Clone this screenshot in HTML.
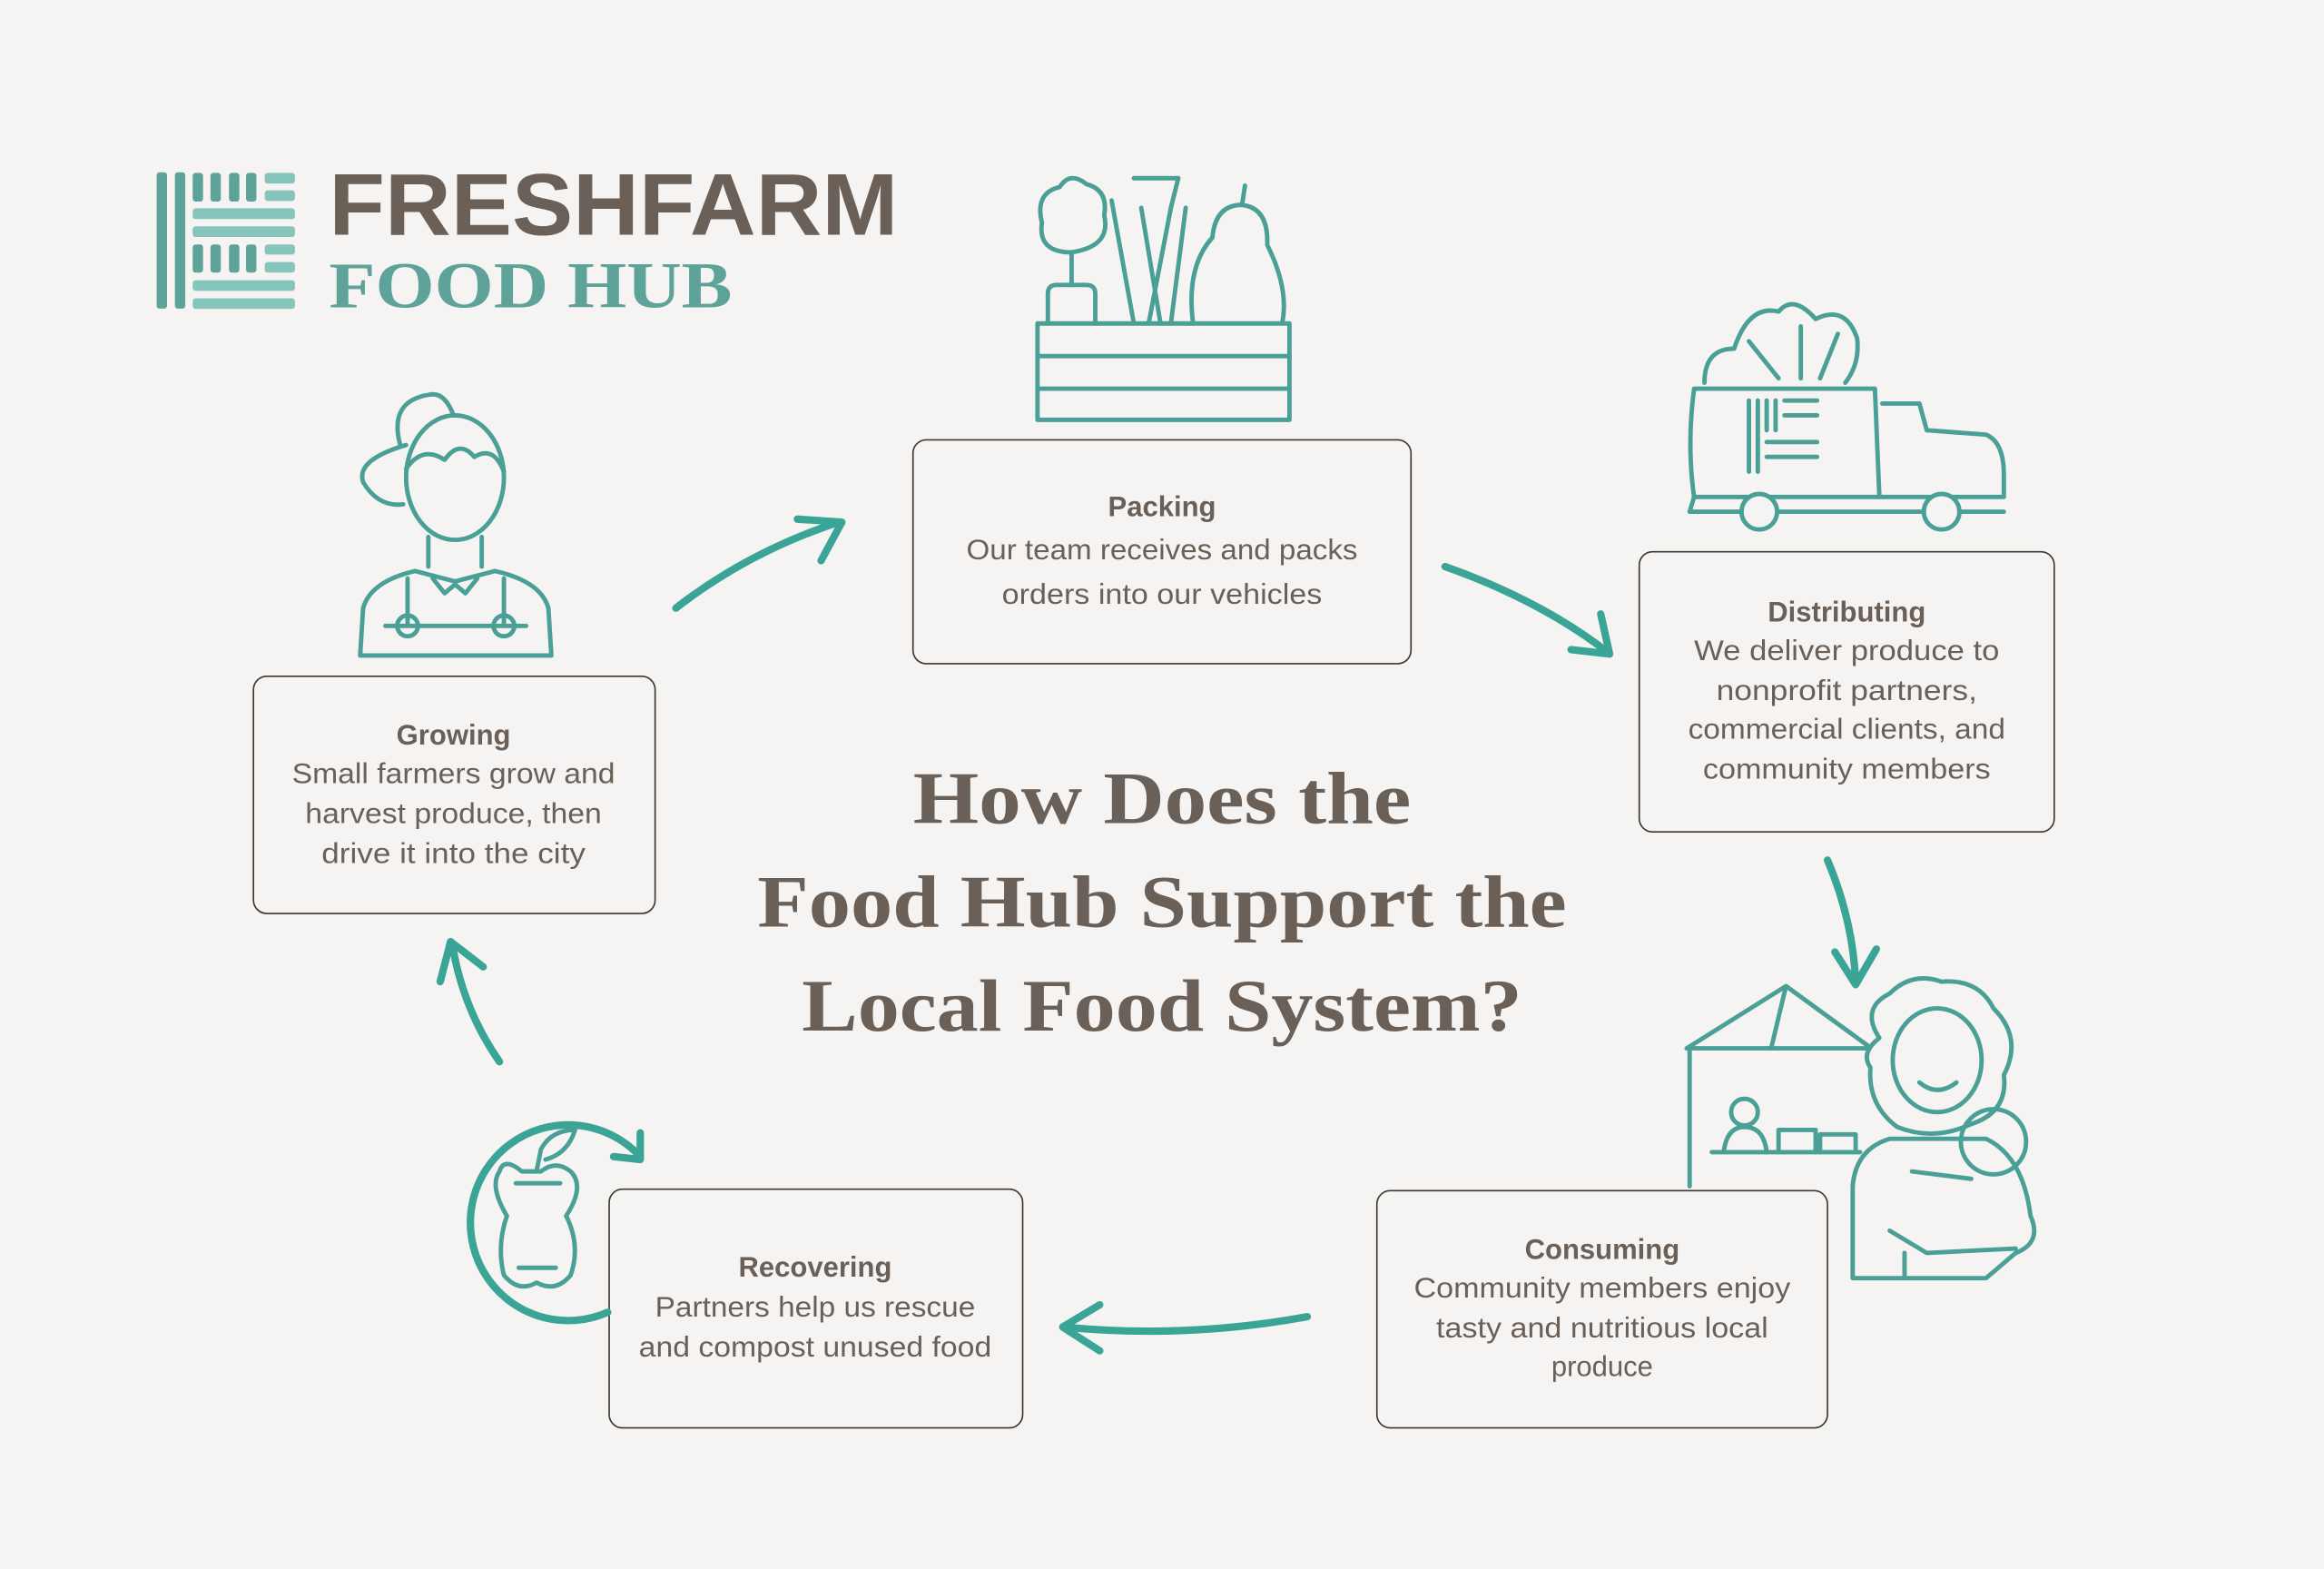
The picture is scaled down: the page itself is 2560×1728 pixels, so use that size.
<!DOCTYPE html>
<html><head><meta charset="utf-8"><style>
html,body{margin:0;padding:0;background:#f6f4f2;}
svg{display:block}
</style></head><body>
<svg width="2560" height="1728" viewBox="0 0 1568 1058" xmlns="http://www.w3.org/2000/svg">
<rect width="1568" height="1058" fill="#f6f4f2"/>
<!-- logo -->
<g fill="#5ea39a">
<rect x="105.7" y="116" width="7" height="92" rx="2"/><rect x="118" y="116" width="7" height="92" rx="2"/>
<rect x="130" y="116.4" width="7" height="19.4" rx="2"/><rect x="142" y="116.4" width="7" height="19.4" rx="2"/><rect x="154.5" y="116.4" width="7" height="19.4" rx="2"/><rect x="166" y="116.4" width="7" height="19.4" rx="2"/>
<rect x="130" y="164.7" width="7" height="19" rx="2"/><rect x="142" y="164.7" width="7" height="19" rx="2"/><rect x="154.5" y="164.7" width="7" height="19" rx="2"/><rect x="166" y="164.7" width="7" height="19" rx="2"/>
</g>
<g fill="#86c5bb">
<rect x="178.6" y="116.4" width="20.4" height="7.2" rx="2"/><rect x="178.6" y="128.2" width="20.4" height="7.2" rx="2"/>
<rect x="130" y="140.3" width="69" height="7.3" rx="2"/><rect x="130" y="152.5" width="69" height="7.2" rx="2"/>
<rect x="178.6" y="164.7" width="20.4" height="6.8" rx="2"/><rect x="178.6" y="176.5" width="20.4" height="7.2" rx="2"/>
<rect x="130" y="188.8" width="69" height="7.2" rx="2"/><rect x="130" y="201" width="69" height="7.2" rx="2"/>
</g>
<text x="222" y="158" font-family="Liberation Sans, sans-serif" font-weight="bold" font-size="59" fill="#6b6057" textLength="384" lengthAdjust="spacingAndGlyphs">FRESHFARM</text>
<text x="222" y="207" font-family="Liberation Serif, serif" font-weight="bold" font-size="44" fill="#5ea39a" textLength="272" lengthAdjust="spacingAndGlyphs">FOOD HUB</text>

<!-- title -->
<g font-family="Liberation Serif, serif" font-weight="bold" font-size="50" fill="#6b6057" text-anchor="middle" lengthAdjust="spacingAndGlyphs">
<text x="784" y="555" textLength="336" lengthAdjust="spacingAndGlyphs">How Does the</text>
<text x="784" y="625" textLength="546" lengthAdjust="spacingAndGlyphs">Food Hub Support the</text>
<text x="784" y="695" textLength="486" lengthAdjust="spacingAndGlyphs">Local Food System?</text>
</g>

<!-- boxes -->
<g fill="none" stroke="#3a3632" stroke-width="1">
<rect x="616" y="296.5" width="336" height="151" rx="9"/>
<rect x="1106" y="372" width="280" height="189" rx="9"/>
<rect x="171" y="456" width="271" height="160" rx="9"/>
<rect x="929" y="803" width="304" height="160" rx="9"/>
<rect x="411" y="802" width="279" height="161" rx="9"/>
</g>
<g font-family="Liberation Sans, sans-serif" font-size="19" fill="#6b6057" text-anchor="middle">
<text x="784" y="348" font-weight="bold">Packing</text>
<text x="784" y="377" textLength="264" lengthAdjust="spacingAndGlyphs">Our team receives and packs</text>
<text x="784" y="407" textLength="216" lengthAdjust="spacingAndGlyphs">orders into our vehicles</text>
<text x="1246" y="419" font-weight="bold">Distributing</text>
<text x="1246" y="445" textLength="206" lengthAdjust="spacingAndGlyphs">We deliver produce to</text>
<text x="1246" y="472" textLength="176" lengthAdjust="spacingAndGlyphs">nonprofit partners,</text>
<text x="1246" y="498" textLength="214" lengthAdjust="spacingAndGlyphs">commercial clients, and</text>
<text x="1246" y="525" textLength="194" lengthAdjust="spacingAndGlyphs">community members</text>
<text x="306" y="502" font-weight="bold">Growing</text>
<text x="306" y="528" textLength="218" lengthAdjust="spacingAndGlyphs">Small farmers grow and</text>
<text x="306" y="555" textLength="200" lengthAdjust="spacingAndGlyphs">harvest produce, then</text>
<text x="306" y="582" textLength="178" lengthAdjust="spacingAndGlyphs">drive it into the city</text>
<text x="1081" y="849" font-weight="bold">Consuming</text>
<text x="1081" y="875" textLength="254" lengthAdjust="spacingAndGlyphs">Community members enjoy</text>
<text x="1081" y="902" textLength="224" lengthAdjust="spacingAndGlyphs">tasty and nutritious local</text>
<text x="1081" y="928">produce</text>
<text x="550" y="861" font-weight="bold">Recovering</text>
<text x="550" y="888" textLength="216" lengthAdjust="spacingAndGlyphs">Partners help us rescue</text>
<text x="550" y="915" textLength="238" lengthAdjust="spacingAndGlyphs">and compost unused food</text>
</g>

<!-- arrows -->
<g fill="none" stroke="#3aa597" stroke-width="5" stroke-linecap="round" stroke-linejoin="round">
<path d="M456 410 Q505 372 566 352"/><path d="M538 350 L568 352 L554 378"/>
<path d="M975 382 Q1040 405 1085 440"/><path d="M1060 438 L1086 441 L1080 414"/>
<path d="M1233 580 Q1250 620 1252 662"/><path d="M1238 642 L1252 664 L1266 640"/>
<path d="M882 888 Q800 903 718 895"/><path d="M742 880 L717 895 L742 911"/>
<path d="M337 716 Q312 680 305 636"/><path d="M297 662 L304 635 L326 652"/>
<path d="M410 885 A66 66 0 1 1 432 780"/><path d="M414 780 L432 782 L432 764"/>
</g>

<!-- icons -->
<g fill="none" stroke="#4aa096" stroke-width="3" stroke-linecap="round" stroke-linejoin="round">
<!-- farmer -->
<ellipse cx="307" cy="322" rx="33" ry="42"/>
<path d="M274 316 Q285 300 300 310 Q310 296 320 308 Q333 300 340 318"/>
<path d="M270 300 Q262 270 290 266 Q300 264 306 280"/>
<path d="M274 300 Q240 310 245 325 Q255 342 272 340"/>
<path d="M289 362 L289 382 M325 362 L325 382"/>
<path d="M243 442 L245 410 Q250 392 280 385 L307 392 L334 385 Q365 392 370 410 L372 442 Z"/>
<path d="M292 390 L300 400 L307 394 L314 400 L322 390"/>
<path d="M275 390 L275 422 M340 390 L340 422 M260 422 L355 422"/>
<circle cx="275" cy="422" r="7"/><circle cx="340" cy="422" r="7"/>
<!-- crate -->
<rect x="700" y="218" width="170" height="65"/>
<path d="M700 240 L870 240 M700 262 L870 262 M725 240 L755 240 M760 262 L830 262"/>
<path d="M707 218 L707 198 Q707 192 713 192 L733 192 Q739 192 739 198 L739 218"/>
<path d="M723 192 L723 170"/>
<path d="M723 170 Q700 170 703 150 Q698 130 715 126 Q722 115 733 124 Q748 128 745 145 Q750 166 723 170"/>
<path d="M750 135 L765 218 M765 120 L795 120 L790 140 L775 218 M770 140 L783 218 M800 140 L790 218"/>
<path d="M805 218 Q800 180 818 160 Q820 138 838 138 Q856 140 855 165 Q870 195 865 218"/>
<path d="M838 138 L840 125"/>
<!-- truck -->
<path d="M1143 262 L1265 262 L1268 335 L1143 335 Q1138 300 1143 262 Z"/>
<path d="M1270 272 L1295 272 L1300 290 L1340 293 Q1352 298 1352 320 L1352 335 L1268 335"/>
<path d="M1143 335 L1140 345 L1352 345"/>
<circle cx="1187" cy="345" r="12" fill="#f6f4f2"/><circle cx="1310" cy="345" r="12" fill="#f6f4f2"/>
<path d="M1180 270 L1180 318 M1186 270 L1186 318 M1192 270 L1192 290 M1198 270 L1198 290 M1204 270 L1226 270 M1204 280 L1226 280 M1192 298 L1226 298 M1192 308 L1226 308"/>
<path d="M1150 258 Q1150 235 1170 235 Q1180 205 1200 210 Q1210 198 1225 215 Q1245 205 1253 228 Q1255 245 1245 258"/>
<path d="M1180 230 L1200 255 M1215 220 L1215 255 M1240 225 L1228 255"/>
<!-- market + woman -->
<path d="M1138 707 L1205 665 L1260 705 M1205 665 L1195 707 M1138 707 L1260 707 M1140 707 L1140 800 M1155 777 L1255 777"/>
<circle cx="1177" cy="750" r="9"/><path d="M1163 777 Q1165 760 1177 760 Q1190 760 1192 777"/>
<path d="M1200 777 L1200 762 L1225 762 L1225 777 M1228 777 L1228 765 L1252 765 L1252 777"/>
<path d="M1268 700 Q1255 680 1275 670 Q1290 655 1310 662 Q1335 660 1345 680 Q1365 700 1352 725 Q1355 750 1330 758 Q1305 770 1280 760 Q1260 745 1262 720 Q1255 710 1268 700"/>
<ellipse cx="1307" cy="715" rx="30" ry="35"/>
<path d="M1295 730 Q1307 740 1320 730"/>
<path d="M1250 862 L1250 800 Q1252 775 1275 768 L1340 768 Q1365 780 1370 820 Q1378 838 1360 845 L1340 862 Z"/>
<circle cx="1345" cy="770" r="22"/>
<path d="M1290 790 L1330 795 M1275 830 L1300 845 L1360 842 M1285 845 L1285 862"/>
<!-- apple -->
<path d="M352 790 Q340 780 337 790 Q330 800 342 820 Q335 840 340 860 Q350 872 362 865 Q375 872 385 860 Q392 840 382 820 Q395 800 385 790 Q375 782 365 790 Z" />
<path d="M362 790 L365 775 Q372 762 388 762 Q383 778 368 782"/>
<path d="M348 798 L378 798 M350 855 L375 855"/>
</g>
</svg>
</body></html>
